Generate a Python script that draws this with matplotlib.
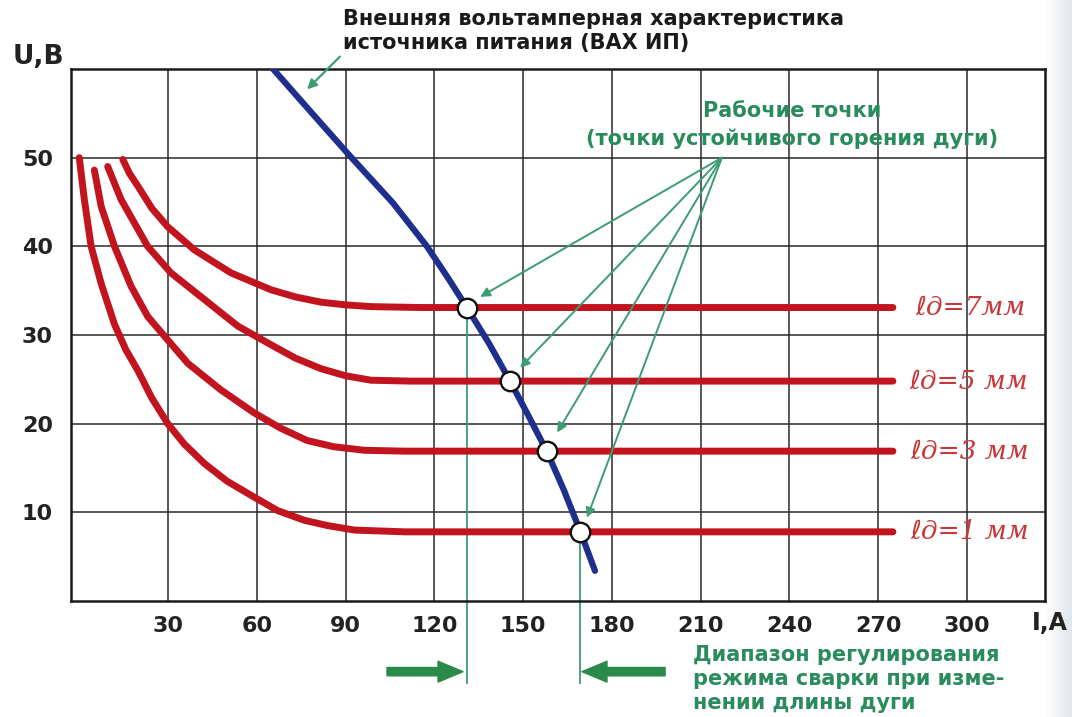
import matplotlib
matplotlib.use("Agg")
import matplotlib.pyplot as plt
import numpy as np

plt.rcParams['font.family'] = ['DejaVu Sans']

# ---- data ----
x_ticks = [30, 60, 90, 120, 150, 180, 210, 240, 270, 300]
y_ticks = [10, 20, 30, 40, 50]

# source external characteristic (blue)
src_I = [65.5, 78.7, 92.0, 106.0, 117.5, 124.5, 131.0, 138.4, 145.6, 151.8, 158.0, 163.8, 169.4, 174.3]
src_U = [60.0, 55.0, 50.0, 44.9, 40.0, 36.5, 33.1, 29.1, 24.8, 20.9, 16.9, 12.5, 7.8, 3.4]

# arc characteristics (red)
arc1_I = [0.0, 1.7, 4.0, 7.4, 11.9, 15.8, 19.8, 24.5, 29.9, 35.5, 42.3, 50.0, 59.2, 67.0, 76.1, 84.0, 93.0, 110.0, 275.0]
arc1_U = [50.0, 45.3, 40.0, 35.8, 31.2, 28.3, 26.0, 22.9, 20.0, 17.7, 15.5, 13.5, 11.7, 10.2, 9.1, 8.5, 8.0, 7.8, 7.8]
arc3_I = [5.1, 7.4, 11.9, 17.5, 23.1, 30.0, 36.7, 47.9, 59.2, 68.0, 77.0, 86.0, 96.3, 110.0, 275.0]
arc3_U = [48.6, 44.5, 40.0, 35.5, 32.1, 29.4, 26.8, 23.8, 21.2, 19.5, 18.1, 17.4, 17.0, 16.9, 16.9]
arc5_I = [9.6, 14.1, 23.1, 31.0, 42.3, 53.6, 64.8, 73.0, 81.7, 90.0, 98.6, 112.0, 275.0]
arc5_U = [49.0, 45.3, 40.0, 37.0, 34.0, 31.0, 28.9, 27.4, 26.2, 25.4, 24.9, 24.8, 24.8]
arc7_I = [14.7, 17.0, 19.8, 24.5, 29.9, 38.9, 51.3, 64.8, 73.0, 81.7, 90.0, 98.6, 115.0, 275.0]
arc7_U = [49.8, 48.2, 46.8, 44.3, 42.2, 39.6, 37.0, 35.1, 34.3, 33.7, 33.4, 33.2, 33.1, 33.1]
arc_labels = ["ℓд=7мм", "ℓд=5 мм", "ℓд=3 мм", "ℓд=1 мм"]
arc_label_I = [282.5, 280.5, 280.8, 281.0]
arc_label_U = [33.1, 24.8, 16.9, 7.8]

# working points
wp_I = [131.0, 145.6, 158.0, 169.4]
wp_U = [33.1, 24.8, 16.9, 7.8]
# arrow tips near working points
tip_I = [135.5, 149.0, 161.5, 171.6]
tip_U = [34.3, 26.3, 19.0, 9.4]
arrow_src = (217.2, 50.0)

RED = '#c2141f'
BLUE = '#1f2f8e'
GREEN = '#2a8c5c'
GLINE = '#3c9c72'

fig = plt.figure(figsize=(10.72, 7.17), dpi=100)

# faint scan shading at right edge
bg = fig.add_axes([1045/1072, 0, 27/1072, 1], zorder=-5)
grad = np.linspace(0, 1, 50)[None, :]
bg.imshow(grad, aspect='auto', cmap=matplotlib.colors.LinearSegmentedColormap.from_list(
    'g', ['#ffffff', '#dfe6ee']), extent=[0, 1, 0, 1])
bg.axis('off')

ax = fig.add_axes([71/1072, 1-601/717, (1045-71)/1072, (601-69)/717])
ax.set_xlim(-2.8, 326.4)
ax.set_ylim(0, 60)

ax.set_xticks(x_ticks)
ax.set_yticks(y_ticks)
ax.grid(True, color='#2a2a2a', linewidth=1.1)
ax.tick_params(length=0, labelsize=16, colors='#222222')
ax.tick_params(axis='x', pad=11)
ax.tick_params(axis='y', pad=13)
for lab in ax.get_xticklabels() + ax.get_yticklabels():
    lab.set_fontweight('bold')
for s in ax.spines.values():
    s.set_linewidth(1.8)
    s.set_color('#1a1a1a')
ax.set_axisbelow(True)

# red arc curves
for I, U in [(arc1_I, arc1_U), (arc3_I, arc3_U), (arc5_I, arc5_U), (arc7_I, arc7_U)]:
    ax.plot(I, U, color=RED, linewidth=5, solid_capstyle='round',
            solid_joinstyle='round', zorder=3)
for lab, xi, u in zip(arc_labels, arc_label_I, arc_label_U):
    ax.text(xi, u, lab, color='#c8383a', fontsize=19,
            family=['DejaVu Serif', 'DejaVu Sans', 'Noto Sans'],
            style='italic', va='center', ha='left', zorder=4)

# vertical green lines for range
for i in (0, 3):
    ax.plot([wp_I[i], wp_I[i]], [wp_U[i], -9.2], color=GLINE, linewidth=1.3,
            clip_on=False, zorder=2)

# blue source curve
ax.plot(src_I, src_U, color=BLUE, linewidth=4.5, solid_capstyle='round',
        solid_joinstyle='round', zorder=5)

# arrows from label to working points
for ti, tu in zip(tip_I, tip_U):
    ax.annotate('', xy=(ti, tu), xytext=arrow_src,
                arrowprops=dict(arrowstyle='-|>', color=GLINE, lw=1.4,
                                mutation_scale=14, shrinkA=0, shrinkB=0), zorder=6)

ax.plot(wp_I, wp_U, 'o', markersize=14, markerfacecolor='white',
        markeredgecolor='#111111', markeredgewidth=1.7, zorder=7)

# arrow to blue curve from its label
ax.annotate('', xy=(77.0, 57.7), xytext=(88.1, 61.4),
            arrowprops=dict(arrowstyle='-|>', color=GLINE, lw=1.6,
                            mutation_scale=14, shrinkA=0, shrinkB=0),
            annotation_clip=False, zorder=6)

# thick range arrows below axis
astyle = 'simple,head_length=0.9,head_width=0.75,tail_width=0.3'
ax.annotate('', xy=(129.7, -7.97), xytext=(104.0, -7.97),
            arrowprops=dict(arrowstyle=astyle, color='#2a8a4a', shrinkA=0, shrinkB=0,
                            mutation_scale=20),
            annotation_clip=False)
ax.annotate('', xy=(169.9, -7.97), xytext=(198.0, -7.97),
            arrowprops=dict(arrowstyle=astyle, color='#2a8a4a', shrinkA=0, shrinkB=0,
                            mutation_scale=20),
            annotation_clip=False)

# texts
fig.text(343/1072, 1-31/717,
         "Внешняя вольтамперная характеристика\nисточника питания (ВАХ ИП)",
         fontsize=15, fontweight='bold', color='#1a1a1a', ha='left', va='center',
         linespacing=1.3)
fig.text(792/1072, 1-125/717,
         "Рабочие точки\n(точки устойчивого горения дуги)",
         fontsize=15, fontweight='bold', color=GREEN, ha='center', va='center',
         linespacing=1.5)
fig.text(693/1072, 1-679/717,
         "Диапазон регулирования\nрежима сварки при изме-\nнении длины дуги",
         fontsize=15, fontweight='bold', color=GREEN, ha='left', va='center',
         linespacing=1.25)
fig.text(38/1072, 1-57/717, "U,B", fontsize=19, fontweight='bold', color='#222222',
         ha='center', va='center')
fig.text(1050/1072, 1-623/717, "I,A", fontsize=17, fontweight='bold', color='#222222',
         ha='center', va='center')

fig.savefig('out.png', dpi=100)
